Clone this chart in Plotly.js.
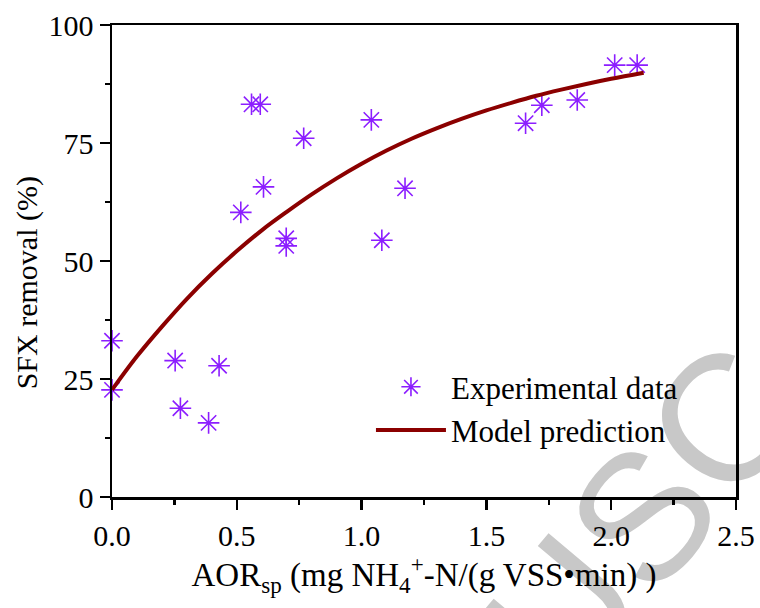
<!DOCTYPE html>
<html>
<head>
<meta charset="utf-8">
<script src="https://cdn.plot.ly/plotly-3.0.1.min.js"></script>
<style>html,body{margin:0;padding:0;background:#fff;}#chart{width:760px;height:608px;}</style>
</head>
<body>
<div id="chart"></div>
<script>
var expX = [0, 0, 0.253, 0.274, 0.387, 0.429, 0.516, 0.559, 0.594, 0.607, 0.698, 0.698, 0.768, 1.039, 1.081, 1.174, 1.657, 1.722, 1.864, 2.014, 2.104];
var expY = [33.1, 22.7, 28.9, 18.8, 15.7, 27.8, 60.3, 83.2, 83.2, 65.7, 54.8, 53.2, 76.0, 79.9, 54.4, 65.4, 79.2, 83.0, 84.1, 91.5, 91.5];

// Model prediction curve
var modelX = [0, 0.1, 0.2, 0.3, 0.4, 0.5, 0.6, 0.7, 0.8, 0.9, 1.0, 1.1, 1.2, 1.3, 1.4, 1.5, 1.6, 1.7, 1.8, 1.9, 2.0, 2.13];
var modelY = [22.7, 29.8, 36.1, 42.0, 47.3, 52.1, 56.5, 60.4, 64.1, 67.5, 70.6, 73.4, 75.9, 78.1, 80.1, 81.9, 83.5, 85.0, 86.3, 87.5, 88.6, 89.9];

var xTickVals = [0, 0.5, 1.0, 1.5, 2.0, 2.5];
var xTickText = ['0.0', '0.5', '1.0', '1.5', '2.0', '2.5'];
var yTickVals = [0, 25, 50, 75, 100];

var serif = 'Liberation Serif, Times New Roman, serif';
var purple = '#8C1EFF';
var darkRed = '#8B0000';

var traces = [
  {
    x: expX, y: expY, type: 'scatter', mode: 'markers', name: 'Experimental data',
    cliponaxis: false,
    marker: {symbol: 'asterisk-open', size: 18, color: purple, line: {color: purple, width: 1.6}}
  },
  {
    x: modelX, y: modelY, type: 'scatter', mode: 'lines', name: 'Model prediction',
    line: {color: darkRed, width: 4, shape: 'spline', smoothing: 1}
  }
];

var layout = {
  width: 760, height: 608,
  margin: {l: 112, r: 24, t: 25, b: 111},
  paper_bgcolor: '#fff', plot_bgcolor: 'rgba(0,0,0,0)',
  font: {family: serif, color: '#000', size: 30},
  showlegend: true,
  legend: {
    x: 0.415, y: 0.29, xanchor: 'left', yanchor: 'top',
    bgcolor: 'rgba(0,0,0,0)', borderwidth: 0,
    itemwidth: 70,
    font: {family: serif, size: 31, color: '#000'},
    tracegroupgap: 0
  },
  xaxis: {
    range: [0, 2.5], tickvals: xTickVals, ticktext: xTickText,
    ticks: 'outside', ticklen: 10, tickwidth: 2.5, tickcolor: '#000',
    showline: true, linewidth: 2.5, linecolor: '#000', mirror: true,
    showgrid: false, zeroline: false,
    tickfont: {family: serif, size: 30, color: '#000'},
    minor: {dtick: 0.25, ticks: 'outside', ticklen: 5, tickwidth: 2.5, tickcolor: '#000', showgrid: false},
    title: {text: 'AOR<sub>sp</sub> (mg NH<sub>4</sub><sup>+</sup>-N/(g VSS\u2022min) )', font: {family: serif, size: 33, color: '#000'}, standoff: 4}
  },
  yaxis: {
    range: [0, 100], tickvals: yTickVals,
    ticks: 'outside', ticklen: 10, tickwidth: 2.5, tickcolor: '#000',
    showline: true, linewidth: 2.5, linecolor: '#000', mirror: true,
    showgrid: false, zeroline: false,
    tickfont: {family: serif, size: 30, color: '#000'},
    minor: {dtick: 12.5, ticks: 'outside', ticklen: 5, tickwidth: 2.5, tickcolor: '#000', showgrid: false}
  },
  annotations: [
    {
      text: 'SFX removal (%)', xref: 'paper', yref: 'paper', x: -0.136, y: 0.453,
      xanchor: 'center', yanchor: 'middle', showarrow: false, textangle: -90,
      font: {family: serif, size: 30, color: '#000'}
    }
  ],
  shapes: [
    {
      type: 'rect', xref: 'paper', yref: 'paper', x0: 0.73, x1: 0.93, y0: -0.117, y1: 0.083,
      line: {width: 0}, fillcolor: 'rgba(0,0,0,0)', layer: 'below',
      label: {
        text: 'USC', textangle: -50, textposition: 'middle center',
        font: {family: 'Liberation Sans, Arial, sans-serif', size: 180, color: '#c8c8c8'}
      }
    }
  ]
};

Plotly.newPlot('chart', traces, layout, {displayModeBar: false, staticPlot: true});
</script>
</body>
</html>
